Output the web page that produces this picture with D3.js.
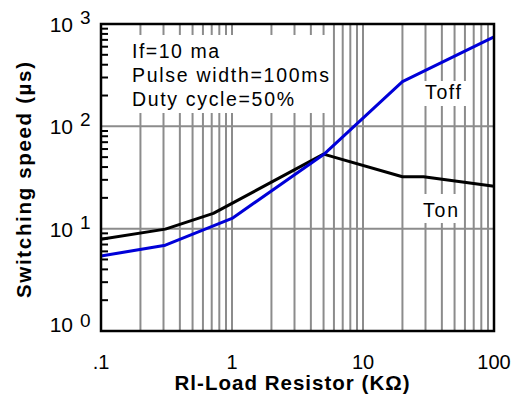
<!DOCTYPE html>
<html><head><meta charset="utf-8">
<script src="https://cdn.jsdelivr.net/npm/d3@7"></script>
<style>body{margin:0;background:#fff}svg{display:block}text{font-family:"Liberation Sans",Arial,sans-serif}</style>
</head><body><svg id="c" width="513" height="402"></svg>
<script>
const tonX = [0.1, 0.31, 0.72, 5, 20, 29, 100];
const tonY = [7.9, 9.9, 14.1, 53.5, 32.2, 32.2, 26];
const toffX = [0.1, 0.31, 1, 5, 20, 100];
const toffY = [5.4, 6.9, 12.6, 53, 273, 750];
const xTicks = [0.1, 1, 10, 100];
const xTickLabels = [".1", "1", "10", "100"];
const yTicks = [1, 10, 100, 1000];
const yTickExp = ["0", "1", "2", "3"];
const notes = ["If=10 ma", "Pulse width=100ms", "Duty cycle=50%"];
const noteWidths = [87, 197, 162];

const svg = d3.select("#c");
const x = d3.scaleLog().domain([0.1, 100]).range([101, 494]);
const y = d3.scaleLog().domain([1, 1000]).range([331, 24]);
const grey = "#8c8c8c";

// vertical grid
const vGrid = [];
[0.1, 1, 10].forEach(d => { for (let k = 2; k <= 10; k++) vGrid.push(d * k); });
svg.append("g").selectAll("line").data(vGrid.filter(v => v < 100)).join("line")
  .attr("x1", d => x(d)).attr("x2", d => x(d)).attr("y1", y(1000)).attr("y2", y(1))
  .attr("stroke", grey).attr("stroke-width", 2);
svg.append("g").selectAll("line").data([10, 100]).join("line")
  .attr("x1", x(0.1)).attr("x2", x(100)).attr("y1", d => y(d)).attr("y2", d => y(d))
  .attr("stroke", grey).attr("stroke-width", 2);

// white boxes behind annotations
svg.append("rect").attr("x", 103).attr("y", 35).attr("width", 228).attr("height", 78).attr("fill", "#fff");
svg.append("rect").attr("x", 419).attr("y", 81).attr("width", 47).attr("height", 25).attr("fill", "#fff");
svg.append("rect").attr("x", 419).attr("y", 194).attr("width", 44).attr("height", 29).attr("fill", "#fff");

// lines
const line = d3.line().x(d => x(d[0])).y(d => y(d[1]));
svg.append("path").datum(tonX.map((v, i) => [v, tonY[i]])).attr("d", line)
  .attr("fill", "none").attr("stroke", "#000").attr("stroke-width", 3).attr("stroke-linejoin", "round");
svg.append("path").datum(toffX.map((v, i) => [v, toffY[i]])).attr("d", line)
  .attr("fill", "none").attr("stroke", "#0000d8").attr("stroke-width", 3).attr("stroke-linejoin", "round");

// frame
svg.append("rect").attr("x", x(0.1)).attr("y", y(1000)).attr("width", x(100) - x(0.1)).attr("height", y(1) - y(1000))
  .attr("fill", "none").attr("stroke", "#000").attr("stroke-width", 2.5);

// y minor ticks (inward)
const yMinor = [];
[1, 10, 100].forEach(d => { for (let k = 2; k <= 9; k++) yMinor.push(d * k); });
svg.append("g").selectAll("line").data(yMinor).join("line")
  .attr("x1", x(0.1)).attr("x2", x(0.1) + 7).attr("y1", d => y(d)).attr("y2", d => y(d))
  .attr("stroke", "#000").attr("stroke-width", 2);

// x tick labels
svg.append("g").selectAll("text").data(xTicks).join("text")
  .attr("x", d => x(d)).attr("y", 369).attr("text-anchor", "middle")
  .attr("font-size", 20).text((d, i) => xTickLabels[i]);

// y tick labels
svg.append("g").selectAll("text").data(yTicks).join("text")
  .attr("x", 73).attr("y", (d, i) => y(d) + (i === 0 ? 1 : 8)).attr("text-anchor", "end")
  .attr("font-size", 21).text("10");
svg.append("g").selectAll("text").data(yTicks).join("text")
  .attr("x", 80).attr("y", (d, i) => y(d) + (i === 0 ? -4 : 0))
  .attr("font-size", 19).text((d, i) => yTickExp[i]);

// annotations
svg.append("g").selectAll("text").data(notes).join("text")
  .attr("x", 132).attr("y", (d, i) => 58 + i * 24).attr("font-size", 19.5)
  .attr("textLength", (d, i) => noteWidths[i]).attr("lengthAdjust", "spacing").text(d => d);
svg.append("text").attr("x", 425).attr("y", 99).attr("font-size", 19.5).attr("textLength", 36).attr("lengthAdjust", "spacing").text("Toff");
svg.append("text").attr("x", 423).attr("y", 217).attr("font-size", 19.5).attr("textLength", 35).attr("lengthAdjust", "spacing").text("Ton");

// axis titles
svg.append("text").attr("x", 292).attr("y", 390).attr("text-anchor", "middle")
  .attr("font-size", 20.5).attr("font-weight", "bold").attr("textLength", 235).attr("lengthAdjust", "spacing")
  .text("Rl-Load Resistor (KΩ)");
svg.append("text").attr("transform", "translate(31,180) rotate(-90)").attr("text-anchor", "middle")
  .attr("font-size", 20.5).attr("font-weight", "bold").attr("textLength", 236).attr("lengthAdjust", "spacing")
  .text("Switching speed (µs)");
</script></body></html>
